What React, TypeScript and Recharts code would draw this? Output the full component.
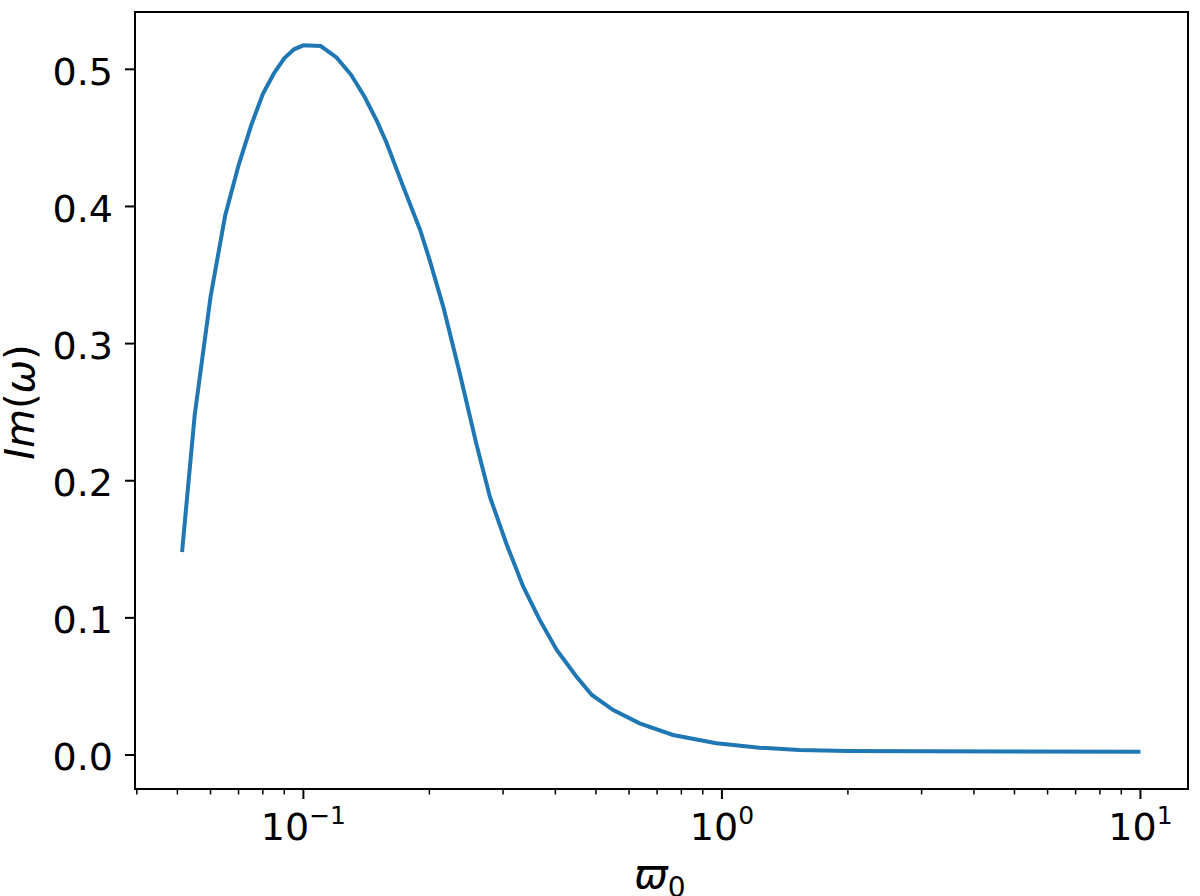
import { Label, Line, LineChart, ReferenceArea, XAxis, YAxis } from 'recharts';

// points (x is on a log axis)
const omegaValues = [
  0.0513, 0.055, 0.06, 0.065, 0.07, 0.075, 0.08, 0.085, 0.09, 0.095, 0.1, 0.11, 0.12, 0.13, 0.14,
  0.15, 0.158, 0.173, 0.19, 0.2, 0.216, 0.236, 0.259, 0.279, 0.306, 0.335, 0.367, 0.403, 0.449,
  0.489, 0.55, 0.636, 0.764, 0.97, 1.23, 1.53, 2, 3, 5, 10,
];
const imValues = [
  0.148, 0.248, 0.334, 0.393, 0.43, 0.459, 0.482, 0.497, 0.508, 0.5146, 0.5175, 0.517, 0.5087,
  0.496, 0.48, 0.462, 0.4465, 0.4148, 0.383, 0.3616, 0.3266, 0.2793, 0.2269, 0.1883, 0.1535, 0.1229,
  0.0985, 0.0766, 0.0572, 0.0438, 0.0328, 0.0231, 0.0146, 0.0085, 0.0053, 0.0036, 0.003, 0.0027,
  0.0025, 0.0023,
];

const majorTicks = [0.1, 1, 10];
const majorExponents = ['\u22121', '0', '1'];
const minorTicks = [0.04, 0.05, 0.06, 0.07, 0.08, 0.09, 0.2, 0.3, 0.4, 0.5, 0.6, 0.7, 0.8, 0.9, 2, 3, 4, 5, 6, 7, 8, 9];
const yTicks = [0, 0.1, 0.2, 0.3, 0.4, 0.5];

const xDomain = [0.0396, 12.99];
const yDomain = [-0.0248, 0.5418];

const FONT = '"DejaVu Sans", sans-serif';

const data = omegaValues.map((x, i) => ({ x, y: imValues[i] }));

function XTick({ x, y, payload }: any) {
  const idx = majorTicks.findIndex((t) => Math.abs(t - payload.value) < 1e-9);
  const major = idx >= 0;
  return (
    <g>
      <line x1={x} x2={x} y1={y} y2={y + (major ? 10 : 5.5)} stroke="#000" strokeWidth={major ? 2 : 1.5} />
      {major && (
        <text x={x} y={y + 51} textAnchor="middle" fontSize={38} fontFamily={FONT} fill="#000">
          <tspan>10</tspan>
          <tspan dy={-16} fontSize={25}>
            {majorExponents[idx]}
          </tspan>
        </text>
      )}
    </g>
  );
}

function YTick({ x, y, payload }: any) {
  return (
    <g>
      <line x1={x - 10} x2={x} y1={y} y2={y} stroke="#000" strokeWidth={2} />
      <text x={x - 22} y={y + 15.5} textAnchor="end" fontSize={38} fontFamily={FONT} fill="#000">
        {payload.value.toFixed(1)}
      </text>
    </g>
  );
}

export default function App() {
  return (
    <div style={{ position: 'absolute', left: 0, top: 0, background: '#fff' }}>
      <LineChart width={1200} height={896} data={data} margin={{ top: 12, right: 12, bottom: 0, left: 0 }}>
        <XAxis
          dataKey="x"
          type="number"
          scale="log"
          domain={xDomain}
          allowDataOverflow
          ticks={[...minorTicks, ...majorTicks]}
          interval={0}
          height={107}
          axisLine={false}
          tickLine={false}
          tickSize={0}
          tickMargin={0}
          tick={<XTick />}
        >
          <Label
            content={() => (
              <text x={660} y={888} textAnchor="middle" fontFamily={FONT} fill="#000">
                <tspan fontSize={40} fontStyle="italic">
                  {'\u03D6'}
                </tspan>
                <tspan fontSize={28} dy={9}>
                  0
                </tspan>
              </text>
            )}
          />
        </XAxis>
        <YAxis
          type="number"
          domain={yDomain}
          allowDataOverflow
          ticks={yTicks}
          width={135}
          axisLine={false}
          tickLine={false}
          tickSize={0}
          tickMargin={0}
          tick={<YTick />}
        >
          <Label
            content={() => (
              <text
                x={0}
                y={0}
                transform="translate(34 402) rotate(-90)"
                textAnchor="middle"
                fontSize={40}
                fontFamily={FONT}
                fill="#000"
              >
                <tspan fontStyle="italic">Im</tspan>
                <tspan>(</tspan>
                <tspan fontStyle="italic">{'\u03C9'}</tspan>
                <tspan>)</tspan>
              </text>
            )}
          />
        </YAxis>
        <Line
          dataKey="y"
          type="linear"
          stroke="#1f77b4"
          strokeWidth={4}
          dot={false}
          isAnimationActive={false}
        />
        <ReferenceArea
          x1={xDomain[0]}
          x2={xDomain[1]}
          y1={yDomain[0]}
          y2={yDomain[1]}
          fill="none"
          stroke="#000"
          strokeWidth={2}
          ifOverflow="visible"
        />
      </LineChart>
    </div>
  );
}
